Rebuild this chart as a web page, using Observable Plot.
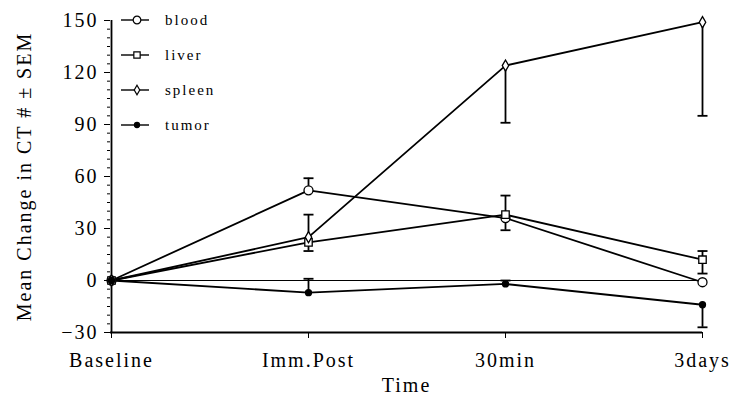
<!DOCTYPE html>
<html><head><meta charset="utf-8">
<script src="https://cdn.jsdelivr.net/npm/d3@7"></script>
<script src="https://cdn.jsdelivr.net/npm/@observablehq/plot@0.6"></script>
<style>
body{margin:0;background:#fff;}
#wrap{position:relative;width:732px;height:404px;}
#wrap svg text{letter-spacing:2px;}
#legend{position:absolute;left:0;top:0;}
#legend text{letter-spacing:1px;}
</style></head><body><div id="wrap"></div>
<script>
const categories = ["Baseline", "Imm.Post", "30min", "3days"];
const seriesNames = ["blood", "liver", "spleen", "tumor"];
const blood  = [0, 52, 36, -1];
const bloodUp   = [0, 7, 0, 0];
const bloodDown = [0, 0, 7, 0];
const liver  = [0, 22, 38, 12];
const liverUp   = [0, 16, 11, 5];
const liverDown = [0, 0, 0, 8];
const spleen = [0, 25, 124, 149];
const spleenUp   = [0, 0, 0, 0];
const spleenDown = [0, 8, 33, 54];
const tumor  = [0, -7, -2, -14];
const tumorUp   = [0, 8, 2, 0];
const tumorDown = [0, 0, 0, 13];
const yMajorTicks = [-30, 0, 30, 60, 90, 120, 150];

const table = {blood:[blood,bloodUp,bloodDown], liver:[liver,liverUp,liverDown],
  spleen:[spleen,spleenUp,spleenDown], tumor:[tumor,tumorUp,tumorDown]};
const rows = [];
for (const s of seriesNames) {
  const [v, u, dn] = table[s];
  categories.forEach((c, i) => rows.push({series: s, time: c, value: v[i], up: u[i], down: dn[i]}));
}
const capSymbol = {draw(ctx, size) { const r = Math.sqrt(size / Math.PI); ctx.moveTo(-r, 0); ctx.lineTo(r, 0); }};
const symbolOf = {blood: "circle", liver: "square", spleen: "diamond", tumor: "circle"};
const rOf = {blood: 4.5, liver: 4.2, spleen: 3.4, tumor: 3};
const fillOf = {blood: "white", liver: "white", spleen: "white", tumor: "black"};

const upRows = rows.filter(d => d.up > 0);
const downRows = rows.filter(d => d.down > 0);

const chart = Plot.plot({
  width: 732, height: 404,
  marginLeft: 110, marginRight: 30, marginTop: 20, marginBottom: 72,
  style: {fontFamily: "Liberation Serif", fontSize: "20px", color: "black", background: "white"},
  x: {type: "point", domain: categories, padding: 0},
  y: {domain: [-30, 150]},
  marks: [
    Plot.axisY({ticks: d3.range(-30, 151, 5), tickSize: 3, tickFormat: () => "", label: null}),
    Plot.axisY({ticks: yMajorTicks, tickSize: 6, tickPadding: 6, fontSize: 20,
      label: "Mean Change in CT # ± SEM", labelAnchor: "center", labelArrow: "none", labelOffset: 94}),
    Plot.axisX({tickSize: 6, tickPadding: 14, fontSize: 20, label: "Time", labelAnchor: "center", labelArrow: "none", labelOffset: 59}),
    Plot.ruleX([categories[0]], {stroke: "black", strokeWidth: 1.8}),
    Plot.ruleY([-30], {stroke: "black", strokeWidth: 1.8}),
    Plot.ruleY([0], {stroke: "black", strokeWidth: 1}),
    Plot.line(rows, {x: "time", y: "value", z: "series", stroke: "black", strokeWidth: 1.8}),
    Plot.ruleX(upRows, {x: "time", y1: "value", y2: d => d.value + d.up, stroke: "black", strokeWidth: 1.8}),
    Plot.ruleX(downRows, {x: "time", y1: "value", y2: d => d.value - d.down, stroke: "black", strokeWidth: 1.8}),
    Plot.dot(upRows, {x: "time", y: d => d.value + d.up, symbol: capSymbol, r: 5, stroke: "black", strokeWidth: 1.8}),
    Plot.dot(downRows, {x: "time", y: d => d.value - d.down, symbol: capSymbol, r: 5, stroke: "black", strokeWidth: 1.8}),
    ...seriesNames.map(s => Plot.dot(rows.filter(d => d.series === s), {x: "time", y: "value",
      symbol: symbolOf[s], r: rOf[s], fill: fillOf[s], stroke: "black", strokeWidth: 1.3}))
  ]
});
const wrap = document.getElementById("wrap");
wrap.appendChild(chart);

// legend
const lg = d3.select(wrap).append("svg").attr("id", "legend").attr("width", 260).attr("height", 150)
  .style("font-family", "Liberation Serif").style("font-size", "15px");
const legendY = [20, 55, 90, 125];
seriesNames.forEach((s, i) => {
  const g = lg.append("g").attr("transform", `translate(0,${legendY[i]})`);
  g.append("line").attr("x1", 121).attr("x2", 149).attr("y1", 0).attr("y2", 0).attr("stroke", "black").attr("stroke-width", 1.4);
  const type = s === "liver" ? d3.symbolSquare : s === "spleen" ? d3.symbolDiamond : d3.symbolCircle;
  const lr = rOf[s] * 0.85;
  g.append("path").attr("transform", "translate(137,0)")
    .attr("d", d3.symbol(type, lr * lr * Math.PI)())
    .attr("fill", fillOf[s]).attr("stroke", "black").attr("stroke-width", 1.2);
  g.append("text").attr("x", 165).attr("y", 0).attr("dy", "0.32em").attr("fill", "black").text(s);
});
</script></body></html>
